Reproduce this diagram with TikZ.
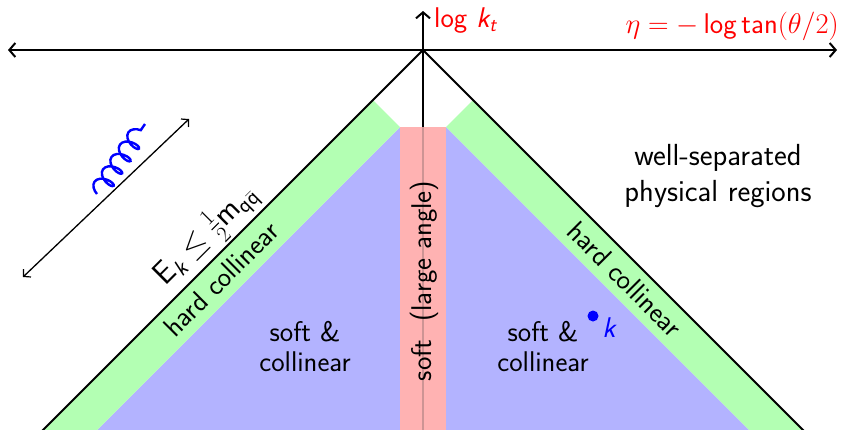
\RequirePackage{fix-cm}
\documentclass[tikz,border=0pt]{standalone}
\usepackage{amsmath}
\usetikzlibrary{decorations.pathmorphing,arrows.meta}
\renewcommand{\familydefault}{\sfdefault}
\newcommand{\sv}[1]{\text{\sffamily\slshape #1}}
\newcommand{\su}[1]{\text{\sffamily #1}}
\definecolor{bandgreen}{RGB}{179,255,179}
\definecolor{softblue}{RGB}{179,179,255}
\definecolor{stripepink}{RGB}{255,178,178}
\definecolor{lineinpink}{RGB}{205,148,148}
\tikzset{
  axis/.style={line width=2.6pt, black},
  edge/.style={line width=2pt, black},
  lbl/.style={font=\fontsize{28.5}{30}\selectfont, inner sep=0pt},
  biglbl/.style={font=\fontsize{30.5}{36}\selectfont, inner sep=0pt},
  redlbl/.style={lbl, red},
  bigtip/.tip={Straight Barb[length=6pt,width=14pt,line width=2pt]},
  smalltip/.tip={Straight Barb[length=5pt,width=11pt,line width=1.2pt]},
}
\begin{document}
\begin{tikzpicture}[x=1pt,y=-1pt]
\useasboundingbox (0,0) rectangle (841,429);
\clip (0,0) rectangle (841,429);
% key points
\coordinate (apex) at (423,50);
\coordinate (lo) at (16,457);
\coordinate (ro) at (830,457);
\coordinate (lt) at (373,100);
\coordinate (rt) at (473,100);
\coordinate (pl) at (400,127);
\coordinate (pr) at (446,127);
\coordinate (li) at (70,457);
\coordinate (ri) at (776,457);
% fills
\fill[softblue] (pl) -- (pr) -- (ri) -- (li) -- cycle;
\fill[bandgreen] (lt) -- (pl) -- (li) -- (lo) -- cycle;
\fill[bandgreen] (rt) -- (pr) -- (ri) -- (ro) -- cycle;
% outer lines
\draw[edge] (lo) -- (apex) -- (ro);
% axes
\coordinate (xl) at (8,50);
\coordinate (xr) at (837,50);
\coordinate (yb) at (423,440);
\coordinate (yt) at (423,11);
\draw[axis,bigtip-bigtip] (xl) -- (xr);
\draw[axis,-bigtip] (yb) -- (yt);
% pink stripe
\fill[stripepink] (400,127) rectangle (446,440);
\coordinate (pb) at (423,440);
\coordinate (ptop) at (423,127);
\draw[line width=2.2pt, lineinpink] (ptop) -- (pb);
% axis labels
\node[redlbl, anchor=base west] (kt) at (434,27) {log $\sv{k}_{\sv{t}}$};
\node[redlbl, anchor=base east] (eta) at (839,33) {$\eta = -\,\su{log}\,\su{tan}(\theta/2)$};
% region labels
\node[lbl, rotate=90] (soft) at (424,281) {soft \ (large angle)};
\node[lbl, align=center] (scl) at (305,346) {soft \&\\collinear};
\node[lbl, align=center] (scr) at (543,346) {soft \&\\collinear};
\node[lbl, rotate=45] (hcl) at (221,279) {hard collinear};
\node[lbl, rotate=-45] (hcr) at (625,279) {hard collinear};
\node[lbl, rotate=45, anchor=south, inner sep=3pt, font=\fontsize{32}{34}\selectfont] (ek) at (222,251) {$\su{E}_{\sv{k}} \leq \frac{1}{2}\su{m}_{\su{q}\bar{\su{q}}}$};
\node[biglbl, align=center] (wsp) at (718,176) {well-separated\\physical regions};
% point k
\node[circle, fill=blue, inner sep=0pt, minimum size=11pt] (dot) at (593,316) {};
\node[lbl, blue] (klbl) at (609,328) {$\sv{k}$};
% emission sketch
\coordinate (dl) at (23,277);
\coordinate (dr) at (189,119);
\draw[line width=1.3pt, smalltip-smalltip] (dl) -- (dr);
\coordinate (g0) at (97,194);
\coordinate (g1) at (145,124);
\draw[blue, line width=2.4pt, decorate, decoration={coil, aspect=0.55, segment length=15pt, amplitude=9pt}] (g0) -- (g1);
\end{tikzpicture}
\end{document}
